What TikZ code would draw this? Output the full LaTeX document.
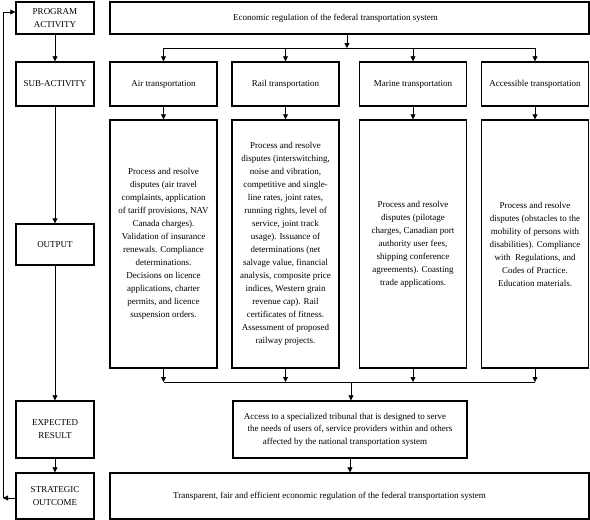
\documentclass[tikz,border=0pt]{standalone}
\usepackage{fontspec}
\setmainfont{Liberation Serif}
\usetikzlibrary{arrows.meta}
\begin{document}
\begin{tikzpicture}[x=1pt,y=-1pt,
  box/.style={draw,line width=1.4pt,inner sep=0pt,align=center,
    font=\fontsize{9}{13}\selectfont},
  lbox/.style={box,minimum width=78pt},
  sbox/.style={box,minimum width=107pt,minimum height=44pt},
  obox/.style={box,minimum width=107pt,minimum height=248pt},
  conn/.style={line width=0.8pt},
  arr/.style={conn,-{Triangle[length=5pt,width=5pt]}}]
\useasboundingbox (0,0) rectangle (590,520);
% left column
\node[lbox,minimum height=32pt] (prog) at (55,18) {PROGRAM\\ACTIVITY};
\node[lbox,minimum height=44pt] (sub) at (55,84) {SUB-ACTIVITY};
\node[lbox,minimum height=41pt] (outp) at (55,244.5) {OUTPUT};
\node[lbox,minimum height=57pt] (exp) at (55,429.5) {EXPECTED\\RESULT};
\node[lbox,minimum height=46pt] (strat) at (55,496) {STRATEGIC\\OUTCOME};
% right content
\node[box,minimum width=479pt,minimum height=32pt] (top) at (349.5,18)
  {\hspace*{-28pt}Economic regulation of the federal transportation system};
\node[sbox] (air) at (163.5,84) {Air transportation};
\node[sbox] (rail) at (285.5,84) {Rail transportation};
\node[sbox] (mar) at (413,84) {Marine transportation};
\node[sbox] (acc) at (535,84) {Accessible transportation};
\node[obox] (oair) at (163.5,244) {Process and resolve\\disputes (air travel\\complaints, application\\of tariff provisions, NAV\\Canada charges).\\Validation of insurance\\renewals. Compliance\\determinations.\\Decisions on licence\\applications, charter\\permits, and licence\\suspension orders.};
\node[obox] (orail) at (285.5,244) {Process and resolve\\disputes (interswitching,\\noise and vibration,\\competitive and single-\\line rates, joint rates,\\running rights, level of\\service, joint track\\usage). Issuance of\\determinations (net\\salvage value, financial\\analysis, composite price\\indices, Western grain\\revenue cap). Rail\\certificates of fitness.\\Assessment of proposed\\railway projects.};
\node[obox] (omar) at (413,244) {Process and resolve\\disputes (pilotage\\charges, Canadian port\\authority user fees,\\shipping conference\\agreements). Coasting\\trade applications.};
\node[obox] (oacc) at (535,244) {Process and resolve\\disputes (obstacles to the\\mobility of persons with\\disabilities). Compliance\\with\ \ Regulations, and\\Codes of Practice.\\Education materials.};
\node[box,minimum width=234pt,minimum height=57pt,
  font=\fontsize{9}{12.5}\selectfont] (res) at (350,429.5)
  {Access to a specialized tribunal that is designed to serve\hspace*{10pt}\\the needs of users of, service providers within and others\hspace*{10pt}\\affected by the national transportation system\hspace*{10pt}};
\node[box,minimum width=479pt,minimum height=46pt] (so) at (349.5,496)
  {\hspace*{-40pt}Transparent, fair and efficient economic regulation of the federal transportation system};
% left column connectors
\draw[arr] (prog) -- (sub);
\draw[arr] (sub) -- (outp);
\draw[arr] (outp) -- (exp);
\draw[arr] (exp) -- (strat);
% feedback loop
\coordinate (fbb) at (3,498);
\coordinate (fbt) at (3,12);
\draw[arr] (strat.west |- fbb) -- (fbb);
\draw[conn] (fbb) -- (fbt);
\draw[arr] (fbt) -- (fbt -| prog.west);
% top split
\coordinate (split) at (347,48);
\draw[arr] (top.south -| split) -- (split);
\draw[conn] (air.north |- split) -- (acc.north |- split);
\foreach \n in {air,rail,mar,acc} \draw[arr] (\n.north |- split) -- (\n.north);
% sub to output
\draw[arr] (air) -- (oair);
\draw[arr] (rail) -- (orail);
\draw[arr] (mar) -- (omar);
\draw[arr] (acc) -- (oacc);
% merge
\coordinate (merge) at (351,382);
\foreach \n in {oair,orail,omar,oacc} \draw[arr] (\n.south) -- (\n.south |- merge);
\draw[conn] (oair.south |- merge) -- (oacc.south |- merge);
\draw[arr] (merge) -- (merge |- res.north);
\draw[arr] (res) -- (res |- so.north);
\end{tikzpicture}
\end{document}
